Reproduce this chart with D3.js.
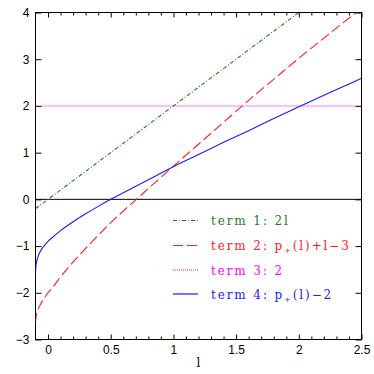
<!DOCTYPE html>
<html><head><meta charset="utf-8">
<script src="https://cdn.jsdelivr.net/npm/d3@7"></script>
<style>
html,body{margin:0;padding:0;background:#fff;}
svg{display:block;}
</style></head>
<body>
<svg id="chart" width="374" height="374"></svg>
<script>
// ---- data ----
const xTickLabels = ["0", "0.5", "1", "1.5", "2", "2.5"];
const xMajorTicks = [0, 0.5, 1, 1.5, 2, 2.5];
const yTickLabels = ["\u22123", "\u22122", "\u22121", "0", "1", "2", "3", "4"];
const yMajorTicks = [-3, -2, -1, 0, 1, 2, 3, 4];
const xLabel = "l";

// term 1: 2l  (straight line)
const term1L = [-0.1, 2.0];
const term1V = [-0.2, 4.0];

// term 2: p+(l)+l-3
const term2L = [-0.1, -0.095, -0.08, -0.05, 0, 0.05, 0.1, 0.2, 0.3, 0.4, 0.5, 0.6, 0.7, 0.8, 0.9, 1.0, 1.2, 1.4, 1.6, 1.8, 2.0, 2.2, 2.4, 2.5];
const term2V = [-2.65, -2.5, -2.36, -2.2, -2.0, -1.84, -1.66, -1.34, -1.05, -0.77, -0.5, -0.25, -0.01, 0.23, 0.47, 0.71, 1.18, 1.65, 2.12, 2.57, 3.02, 3.45, 3.88, 4.08];

// term 3: 2
const term3L = [-0.1, 2.5];
const term3V = [2, 2];

// term 4: p+(l)-2
const term4L = [-0.1, -0.098, -0.093, -0.085, -0.07, -0.05, -0.02, 0, 0.05, 0.1, 0.2, 0.3, 0.4, 0.5, 0.6, 0.7, 0.8, 0.9, 1.0, 1.2, 1.4, 1.6, 1.8, 2.0, 2.2, 2.4, 2.5];
const term4V = [-1.57, -1.47, -1.36, -1.27, -1.16, -1.06, -0.96, -0.9, -0.78, -0.67, -0.48, -0.31, -0.15, 0.0, 0.14, 0.28, 0.42, 0.56, 0.70, 0.96, 1.22, 1.47, 1.73, 1.98, 2.23, 2.47, 2.59];

const seriesNames = ["term 1: ", "term 2: ", "term 3: ", "term 4: "];
const seriesColors = ["#1e7b1e", "#ff1a1a", "#ff00ff", "#1a1aff"];

// ---- drawing ----
const svg = d3.select("#chart");
const L = 35.5, R = 361.5, T = 12.5, B = 339.5;
const x = d3.scaleLinear().domain([-0.1, 2.5]).range([L, R]);
const y = d3.scaleLinear().domain([-3, 4]).range([B, T]);

svg.append("defs").append("clipPath").attr("id", "clip")
  .append("rect").attr("x", L).attr("y", T).attr("width", R - L).attr("height", B - T);

const tickFont = "'Liberation Sans', Arial, sans-serif";

// minor x ticks
const minorX = d3.range(0, 26).map(i => i / 10).filter(v => Math.abs(v * 2 - Math.round(v * 2)) > 1e-6);

function styleAxis(g) {
  g.select(".domain").remove();
  g.selectAll("line").attr("stroke", "#000").attr("stroke-width", 1);
  g.selectAll("text").attr("font-family", tickFont).attr("font-size", 12).attr("fill", "#000");
}

// bottom
svg.append("g").attr("transform", `translate(0,${B})`)
  .call(d3.axisBottom(x).tickValues(xMajorTicks).tickFormat((d, i) => xTickLabels[i]).tickSizeInner(-5).tickSizeOuter(0).tickPadding(6))
  .call(styleAxis);
svg.append("g").attr("transform", `translate(0,${B})`)
  .call(d3.axisBottom(x).tickValues(minorX).tickFormat("").tickSizeInner(-3).tickSizeOuter(0))
  .call(styleAxis);
// top
svg.append("g").attr("transform", `translate(0,${T})`)
  .call(d3.axisTop(x).tickValues(xMajorTicks).tickFormat("").tickSizeInner(-5).tickSizeOuter(0))
  .call(styleAxis);
svg.append("g").attr("transform", `translate(0,${T})`)
  .call(d3.axisTop(x).tickValues(minorX).tickFormat("").tickSizeInner(-3).tickSizeOuter(0))
  .call(styleAxis);
// left
svg.append("g").attr("transform", `translate(${L},0)`)
  .call(d3.axisLeft(y).tickValues(yMajorTicks).tickFormat((d, i) => yTickLabels[i]).tickSizeInner(-6).tickSizeOuter(0).tickPadding(6))
  .call(styleAxis);
// right
svg.append("g").attr("transform", `translate(${R},0)`)
  .call(d3.axisRight(y).tickValues(yMajorTicks).tickFormat("").tickSizeInner(-6).tickSizeOuter(0))
  .call(styleAxis);

// frame
svg.append("rect").attr("x", L).attr("y", T).attr("width", R - L).attr("height", B - T)
  .attr("fill", "none").attr("stroke", "#000").attr("stroke-width", 1);

// zero line
svg.append("line").attr("x1", x(-0.1)).attr("x2", x(2.5)).attr("y1", y(0)).attr("y2", y(0))
  .attr("stroke", "#000").attr("stroke-width", 1);

// x label
svg.append("text").attr("x", x(1.0) + 25).attr("y", 367).attr("text-anchor", "middle")
  .attr("font-family", "'DejaVu Serif', serif").attr("font-size", 12).text(xLabel);

const line = d3.line().x(d => x(d[0])).y(d => y(d[1])).curve(d3.curveMonotoneX);
const plot = svg.append("g").attr("clip-path", "url(#clip)");
const dashes = ["4,2,1,2", "10,4", "1,1", "none"];
const seriesL = [term1L, term2L, term3L, term4L];
const seriesV = [term1V, term2V, term3V, term4V];
seriesL.forEach((ls, i) => {
  const pts = ls.map((l, j) => [l, seriesV[i][j]]);
  plot.append("path").datum(pts).attr("d", line)
    .attr("fill", "none").attr("stroke", seriesColors[i]).attr("stroke-width", 1.1)
    .attr("stroke-dasharray", dashes[i]);
});

// legend
const legY = [220.5, 245.5, 270, 294];
const legFont = "'DejaVu Serif', serif";
const legG = svg.append("g");
legY.forEach((ly, i) => {
  legG.append("path").attr("d", `M173,${ly}H198`)
    .attr("fill", "none").attr("stroke", seriesColors[i]).attr("stroke-width", 1.2)
    .attr("stroke-dasharray", dashes[i]);
  const t = legG.append("text").attr("x", 211).attr("y", ly + 4.5)
    .attr("font-family", legFont).attr("font-size", 12).attr("letter-spacing", 1.9)
    .attr("fill", seriesColors[i]);
  t.append("tspan").text(seriesNames[i]);
  if (i === 0) t.append("tspan").text("2l");
  if (i === 2) t.append("tspan").text("2");
  if (i === 1 || i === 3) {
    t.append("tspan").text("p");
    t.append("tspan").attr("font-size", 8).attr("dy", 3).text("+");
    t.append("tspan").attr("dy", -3).text(i === 1 ? "(l)+l\u22123" : "(l)\u22122");
  }
});
</script>
</body></html>
